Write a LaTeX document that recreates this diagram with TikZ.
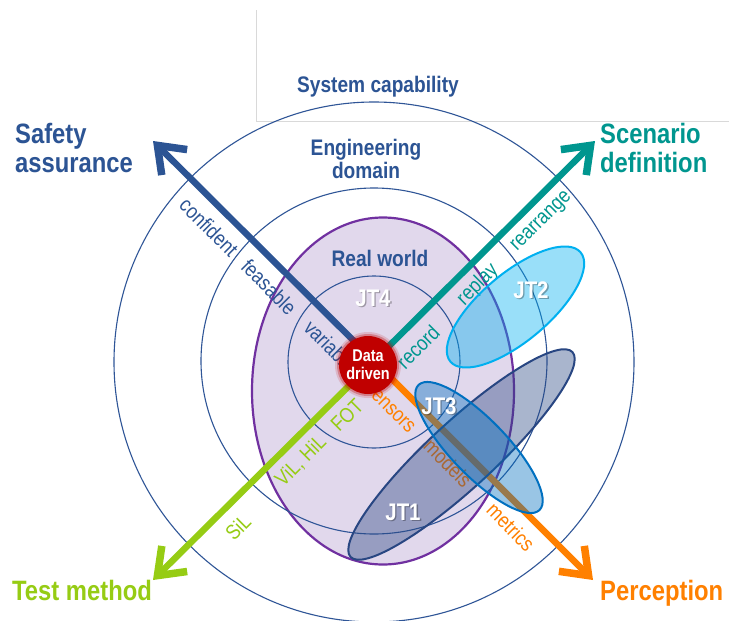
\documentclass[tikz,border=0pt]{standalone}
\usepackage{fontspec}
\usetikzlibrary{arrows.meta,shapes.geometric}
\newfontfamily\cf{Liberation Sans}[FakeStretch=0.85]
\definecolor{cBlue}{RGB}{44,84,148}
\definecolor{cRing}{RGB}{47,85,151}
\definecolor{cTeal}{RGB}{0,150,143}
\definecolor{cGreen}{RGB}{150,204,20}
\definecolor{cOrange}{RGB}{255,128,0}
\definecolor{cPurple}{RGB}{112,48,160}
\definecolor{cLav}{RGB}{225,216,236}
\definecolor{cRed}{RGB}{192,0,0}
\definecolor{cJTa}{RGB}{40,70,130}
\definecolor{cJTb}{RGB}{0,176,240}
\definecolor{cJTc}{RGB}{0,112,192}
\definecolor{cFrame}{RGB}{217,217,217}
\begin{document}
\begin{tikzpicture}[x=1pt,y=-1pt,
  ring/.style={circle, draw=cRing, line width=1.1pt, inner sep=0, minimum size=#1},
  axis/.style={line width=6.5pt, -{Straight Barb[length=24pt,width=36pt,line width=7.5pt]}},
  lab/.style={font=\cf\bfseries\fontsize{28}{29}\selectfont, inner sep=0, align=left},
  inlab/.style={font=\cf\bfseries\fontsize{22.5}{23}\selectfont, text=cBlue, inner sep=0, align=center},
  word/.style={font=\cf\fontsize{21}{23}\selectfont, inner sep=0},
  jt/.style={ellipse, line width=2pt, inner sep=0, fill opacity=0.4},
  jtlab/.style={font=\cf\bfseries\fontsize{24}{26}\selectfont, text=white, inner sep=0},
  jtshadow/.style={font=\cf\bfseries\fontsize{24}{26}\selectfont, text=black, text opacity=0.3, inner sep=0}
]
\useasboundingbox[fill=white] (0,0) rectangle (729,621);

% light frame lines
\coordinate (g1) at (256,10);
\coordinate (g2) at (256,121);
\coordinate (g3) at (729,121);
\draw[cFrame, line width=0.8pt] (g1) -- (g2) -- (g3);

% real world ellipse
\node[ellipse, fill=cLav, draw=cPurple, line width=2.2pt, inner sep=0,
      minimum width=262pt, minimum height=347pt] (rw) at (383,391) {};

% rings
\node[ring=520pt] (outer) at (374,362) {};
\node[ring=346pt] (eng) at (374,361) {};
\node[ring=172pt] (inner) at (374,362) {};

% ring labels
\node[inlab, anchor=base] (sys) at (378,92) {System capability};
\node[inlab, anchor=base] (engl) at (366,178) {Engineering\\domain};
\node[inlab, anchor=base] (rwl) at (380,266) {Real world};

% axes
\coordinate (c) at (374,361);
\coordinate (tSA) at (153,141);
\coordinate (tSD) at (595,141);
\coordinate (tTM) at (153,580);
\coordinate (tPE) at (593,580);
\draw[axis, draw=cBlue] (c) -- (tSA);
\draw[axis, draw=cTeal] (c) -- (tSD);
\draw[axis, draw=cGreen] (c) -- (tTM);
\draw[axis, draw=cOrange] (c) -- (tPE);

% axis labels
\node[lab, text=cBlue, anchor=base west] (lSA) at (15,172) {Safety\\assurance};
\node[lab, text=cTeal, anchor=base west] (lSD) at (600,172) {Scenario\\definition};
\node[lab, text=cGreen, anchor=base west] (lTM) at (12,600) {Test method};
\node[lab, text=cOrange, anchor=base west] (lPE) at (600,600) {Perception};

% words along axes
\node[word, text=cBlue, rotate=-45] (w1) at (209,227) {confident};
\node[word, text=cBlue, rotate=-45] (w2) at (269,287) {feasable};
\node[word, text=cBlue, rotate=-45] (w3) at (330,346) {variable};
\node[word, text=cTeal, rotate=45] (w4) at (418,347) {record};
\node[word, text=cTeal, rotate=45] (w5) at (478,285) {replay};
\node[word, text=cTeal, rotate=45] (w6) at (542,222) {rearrange};
\node[word, text=cGreen, rotate=45] (w7) at (347,415) {FOT};
\node[word, text=cGreen, rotate=45] (w8) at (301,461) {ViL, HiL};
\node[word, text=cGreen, rotate=45] (w9) at (238,527) {SiL};
\node[word, text=cOrange, rotate=-45] (w10) at (390,408) {sensors};
\node[word, text=cOrange, rotate=-45] (w11) at (448,463) {models};
\node[word, text=cOrange, rotate=-45] (w12) at (511,527) {metrics};

% JT ellipses
\node[jt, draw=cJTb, fill=cJTb, minimum width=170pt, minimum height=68pt, rotate=40] (jt2) at (515.5,307) {};
\node[jt, draw=cJTa, fill=cJTa, minimum width=302pt, minimum height=66pt, rotate=42.7] (jt1) at (461.5,454.5) {};
\node[jt, draw=cJTc, fill=cJTc, minimum width=174pt, minimum height=56pt, rotate=-46] (jt3) at (479,447.5) {};

% JT labels
\node[jtshadow] (s4) at (374.3,299.3) {JT4};
\node[jtlab] (l4) at (373,298) {JT4};
\node[jtshadow] (s2) at (532.3,291.3) {JT2};
\node[jtlab] (l2) at (531,290) {JT2};
\node[jtshadow] (s3) at (440.3,407.3) {JT3};
\node[jtlab] (l3) at (439,406) {JT3};
\node[jtshadow] (s1) at (404.3,513.3) {JT1};
\node[jtlab] (l1) at (403,512) {JT1};

% data driven
\fill[cRed, opacity=0.15] (368,365) circle (33);
\fill[cRed, opacity=0.3] (368,365) circle (31);
\node[circle, fill=cRed, inner sep=0, minimum size=58pt, align=center,
      text=white, font=\cf\bfseries\fontsize{17}{18}\selectfont] (dd) at (368,365) {Data\\driven};
\end{tikzpicture}
\end{document}
